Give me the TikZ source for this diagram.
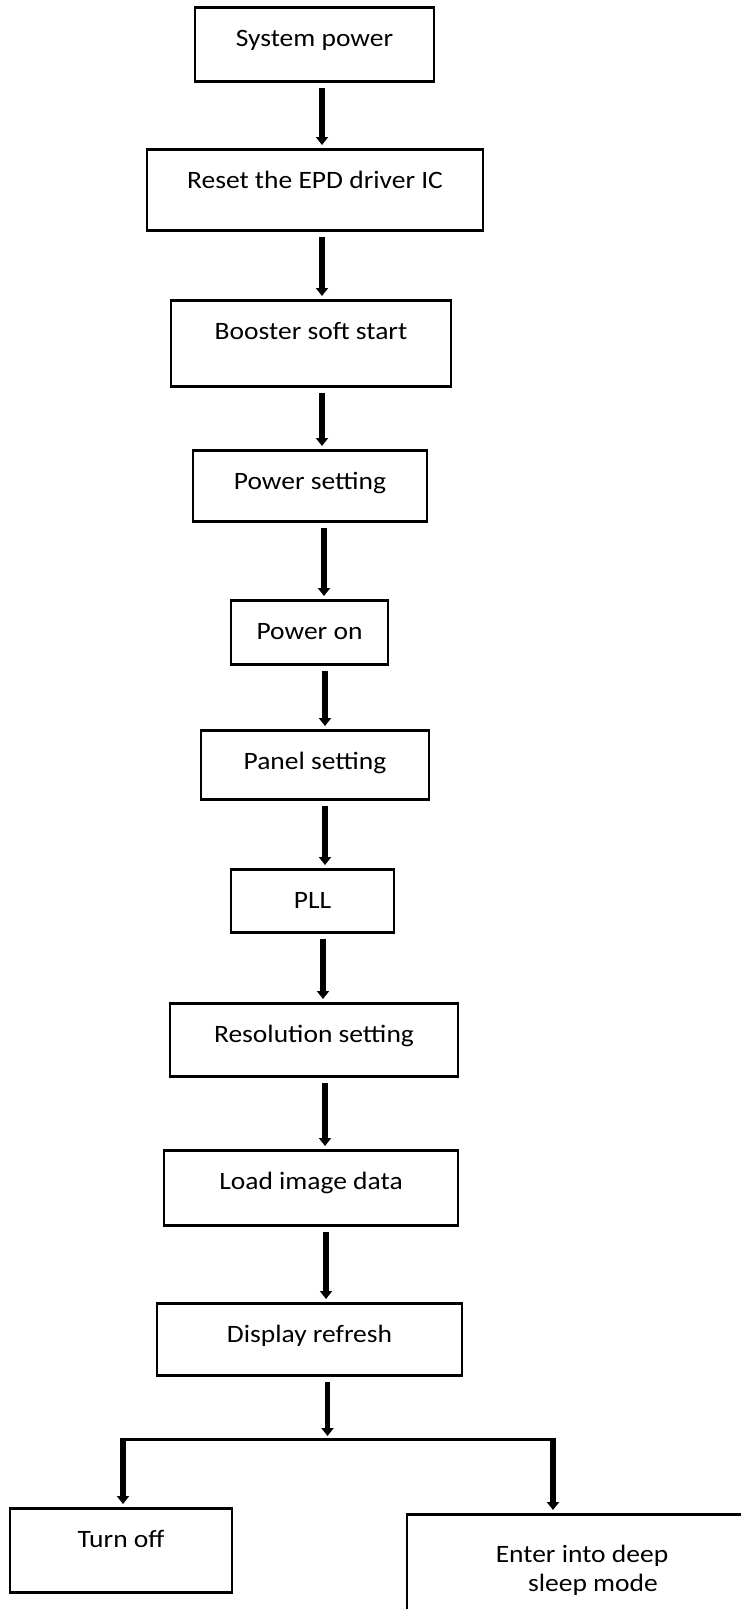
\documentclass[tikz,border=0pt]{standalone}
\usepackage{fontspec}
\setmainfont{Carlito}[FakeStretch=1.1]
\usetikzlibrary{arrows.meta}
\usetikzlibrary{calc}

\tikzset{
  stepbox/.style={draw, line width=2.5pt, anchor=north, inner sep=0pt, align=center,
    text height=39pt, font=\fontsize{25}{29}\selectfont},
  flow/.style={line width=5.5pt, -{Triangle[width=12pt,length=8pt]}, shorten <=5pt, shorten >=3pt},
}

\begin{document}
\begin{tikzpicture}[x=1pt,y=-1pt]
    \useasboundingbox (0,0) rectangle (741,1609);
    % steps, top to bottom
    \node[stepbox, minimum width=239pt, text depth=35pt] (sys) at (314.5,6) {System power};
    \node[stepbox, minimum width=336pt, text depth=42pt] (reset) at (315,148) {Reset the EPD driver IC};
    \node[stepbox, minimum width=280pt, text depth=47pt] (boost) at (311,299) {Booster soft start};
    \node[stepbox, minimum width=234pt, text depth=32pt] (pwrset) at (310,449) {Power setting};
    \node[stepbox, minimum width=157pt, text depth=25pt] (pwron) at (309.5,599) {Power on};
    \node[stepbox, minimum width=228pt, text depth=30pt] (panel) at (315,729) {Panel setting};
    \node[stepbox, minimum width=163pt, text depth=24pt] (pll) at (312.5,868) {PLL};
    \node[stepbox, minimum width=288pt, text depth=34pt] (resol) at (314,1002) {Resolution setting};
    \node[stepbox, minimum width=294pt, text depth=36pt] (load) at (311,1149) {Load image data};
    \node[stepbox, minimum width=305pt, text depth=33pt] (disp) at (309.5,1302) {Display refresh};
    \node[stepbox, minimum width=222pt, text depth=45pt] (off) at (121,1507) {Turn off};
    \node[stepbox, minimum width=350pt, text height=77pt, text depth=50pt] (sleep) at (582,1513)
        {Enter into deep\\\hspace*{22pt}sleep mode};

    % arrows
    \draw[flow] ([xshift=7.5pt]sys.south) coordinate (a1) -- (a1 |- reset.north);
    \draw[flow] ([xshift=7pt]reset.south) coordinate (a2) -- (a2 |- boost.north);
    \draw[flow] ([xshift=11pt]boost.south) coordinate (a3) -- (a3 |- pwrset.north);
    \draw[flow] ([xshift=14pt]pwrset.south) coordinate (a4) -- (a4 |- pwron.north);
    \draw[flow] ([xshift=15.5pt]pwron.south) coordinate (a5) -- (a5 |- panel.north);
    \draw[flow] ([xshift=10pt]panel.south) coordinate (a6) -- (a6 |- pll.north);
    \draw[flow] ([xshift=10.5pt]pll.south) coordinate (a7) -- (a7 |- resol.north);
    \draw[flow] ([xshift=11pt]resol.south) coordinate (a8) -- (a8 |- load.north);
    \draw[flow] ([xshift=15pt]load.south) coordinate (a9) -- (a9 |- disp.north);

    % split to the two ends
    \coordinate (split) at (327.5,1439);
    \coordinate (bl) at (123,1439);
    \coordinate (br) at (553,1439);
    \draw[flow] ([xshift=18pt]disp.south) -- (split);
    \draw[line width=3pt] (bl) -- (br);
    \draw[flow, shorten <=-1.5pt] (bl) -- (bl |- off.north);
    \draw[flow, shorten <=-1.5pt] (br) -- (br |- sleep.north);
\end{tikzpicture}
\end{document}
